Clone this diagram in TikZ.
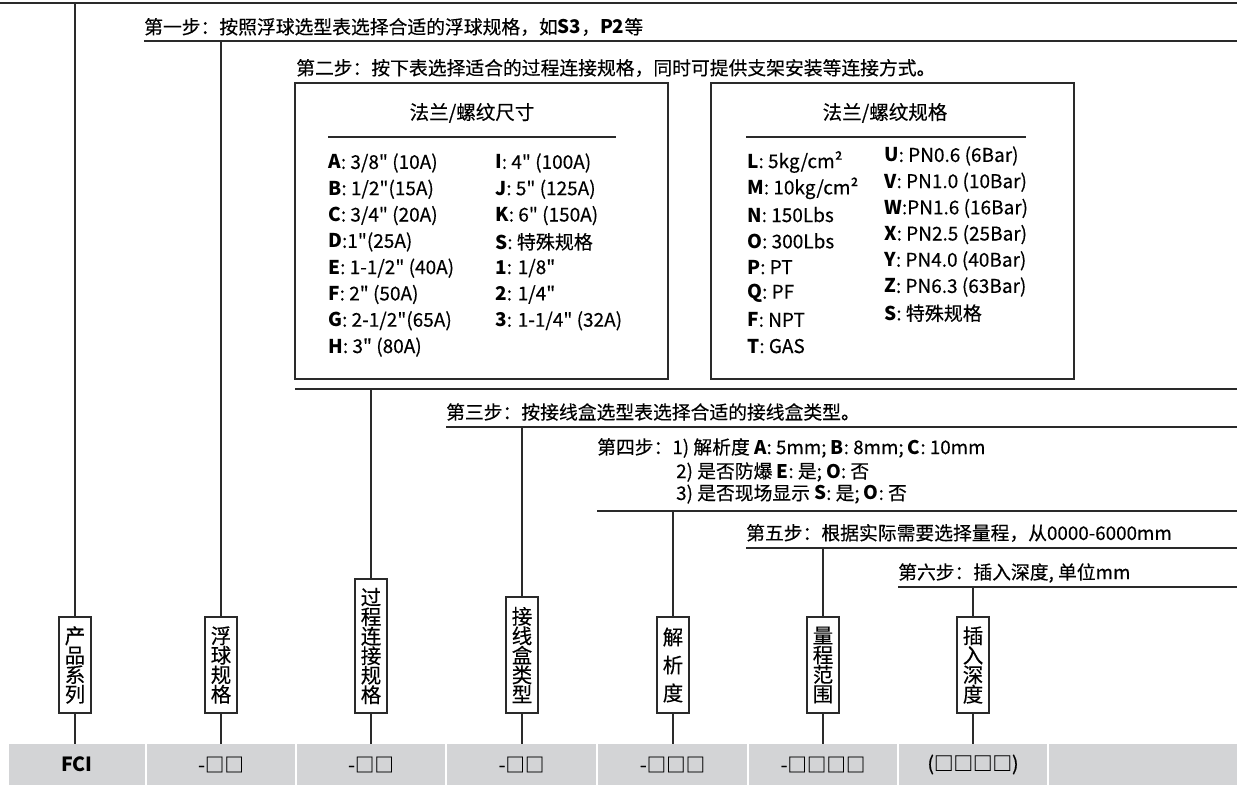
\documentclass[tikz,border=0pt]{standalone}
\usepackage{fontspec}
\newfontfamily\mainf{Noto Sans CJK SC}[UprightFeatures={FakeBold=0.3}]
\definecolor{cellgray}{HTML}{D3D4D6}
\definecolor{lncol}{HTML}{2A2A2A}
\begin{document}
\mainf
\begin{tikzpicture}[x=1pt,y=-1pt,
  ln/.style={line width=1.2pt, draw=lncol},
  steptxt/.style={anchor=west, inner sep=0pt, font=\mainf\fontsize{18.8}{22}\selectfont},
  rowtxt/.style={anchor=west, inner sep=0pt, font=\mainf\fontsize{19}{22}\selectfont},
  ttl/.style={inner sep=0pt, font=\mainf\fontsize{19.5}{22}\selectfont},
  lbl/.style={draw=lncol, line width=1.2pt, fill=white, minimum width=32pt, inner sep=0pt, align=center, font=\mainf\fontsize{20.5}{19.5}\selectfont},
  cellbox/.style={fill=cellgray, inner sep=0pt, minimum height=41pt, font=\mainf\fontsize{19.5}{22}\selectfont},
  tbl/.style={draw=lncol, line width=1.5pt, inner sep=0pt}
]
\useasboundingbox (0,0) rectangle (1237,785);

% bottom cells
\node[cellbox, minimum width=136pt] (c1) at (77,764.5) {\textbf{FCI}};
\node[cellbox, minimum width=148pt] (c2) at (221,764.5) {-□□};
\node[cellbox, minimum width=148pt] (c3) at (371,764.5) {-□□};
\node[cellbox, minimum width=149pt] (c4) at (521.5,764.5) {-□□};
\node[cellbox, minimum width=149pt] (c5) at (672.5,764.5) {-□□□};
\node[cellbox, minimum width=148pt] (c6) at (823,764.5) {-□□□□};
\node[cellbox, minimum width=148pt] (c7) at (973,764.5) {(□□□□)};
\node[cellbox, minimum width=188pt] (c8) at (1143,764.5) {};

% label boxes
\node[lbl, minimum height=96pt] (l1) at (75,665) {产\\品\\系\\列};
\node[lbl, minimum height=96pt] (l2) at (221,665) {浮\\球\\规\\格};
\node[lbl, minimum height=134pt] (l3) at (371,646) {过\\程\\连\\接\\规\\格};
\node[lbl, minimum height=116pt] (l4) at (522,655) {接\\线\\盒\\类\\型};
\node[lbl, minimum height=96pt, font=\mainf\fontsize{20.5}{28}\selectfont] (l5) at (673,665) {解\\析\\度};
\node[lbl, minimum height=96pt] (l6) at (823,665) {量\\程\\范\\围};
\node[lbl, minimum height=96pt] (l7) at (973,665) {插\\入\\深\\度};

% lower connectors
\foreach \i in {1,...,7}{
  \draw[ln] (l\i.south) -- (l\i.south |- c\i.north);
}

% step lines and connectors
\draw[ln] (0,3) -- (1237,3);
\coordinate (s0) at (75,3);
\draw[ln] (s0) -- (l1.north);

\node[steptxt] (t1) at (144,27) {第一步：按照浮球选型表选择合适的浮球规格，如\textbf{S3}，\textbf{P2}等};
\draw[ln] (144,41) -- (1237,41);
\coordinate (s1) at (221,41);
\draw[ln] (s1) -- (l2.north);

\node[steptxt] (t2) at (296,68) {第二步：按下表选择适合的过程连接规格，同时可提供支架安装等连接方式。};
\draw[ln] (295,389) -- (1237,389);
\coordinate (s2) at (371,389);
\draw[ln] (s2) -- (l3.north);

\node[steptxt] (t3) at (446,412) {第三步：按接线盒选型表选择合适的接线盒类型。};
\draw[ln] (446,427) -- (1237,427);
\coordinate (s3) at (522,427);
\draw[ln] (s3) -- (l4.north);

\node[steptxt] (t4a) at (597,448) {第四步：1) 解析度 \textbf{A}: 5mm; \textbf{B}: 8mm; \textbf{C}: 10mm};
\node[steptxt] (t4b) at (676,472) {2) 是否防爆 \textbf{E}: 是; \textbf{O}: 否};
\node[steptxt] (t4c) at (676,494) {3) 是否现场显示 \textbf{S}: 是; \textbf{O}: 否};
\draw[ln] (597,511) -- (1237,511);
\coordinate (s4) at (673,511);
\draw[ln] (s4) -- (l5.north);

\node[steptxt] (t5) at (746,533) {第五步：根据实际需要选择量程，从0000-6000mm};
\draw[ln] (746,548) -- (1237,548);
\coordinate (s5) at (823,548);
\draw[ln] (s5) -- (l6.north);

\node[steptxt] (t6) at (898,573) {第六步：插入深度, 单位mm};
\draw[ln] (898,587) -- (1237,587);
\coordinate (s6) at (973,587);
\draw[ln] (s6) -- (l7.north);

% tables
\node[tbl, minimum width=373pt, minimum height=296pt] (bx1) at (481.5,231) {};
\node[ttl] (h1) at (472,113) {法兰/螺纹尺寸};
\draw[ln] (328,137) -- (616,137);
\foreach \t [count=\i from 0] in {\textbf{A}: 3/8" (10A), \textbf{B}: 1/2"(15A), \textbf{C}: 3/4" (20A), \textbf{D}:1"(25A), \textbf{E}: 1-1/2" (40A), \textbf{F}: 2" (50A), \textbf{G}: 2-1/2"(65A), \textbf{H}: 3" (80A)}{
  \node[rowtxt] (a\i) at (328,{163+26.3*\i}) {\t};
}
\foreach \t [count=\i from 0] in {\textbf{I}: 4" (100A), \textbf{J}: 5" (125A), \textbf{K}: 6" (150A), \textbf{S}: 特殊规格, \textbf{1}: 1/8", \textbf{2}: 1/4", \textbf{3}: 1-1/4" (32A)}{
  \node[rowtxt] (b\i) at (495,{163+26.3*\i}) {\t};
}

\node[tbl, minimum width=363pt, minimum height=296pt] (bx2) at (892.5,231) {};
\node[ttl] (h2) at (885,113) {法兰/螺纹规格};
\draw[ln] (746,137) -- (1026,137);
\foreach \t [count=\i from 0] in {\textbf{L}: 5kg/cm², \textbf{M}: 10kg/cm², \textbf{N}: 150Lbs, \textbf{O}: 300Lbs, \textbf{P}: PT, \textbf{Q}: PF, \textbf{F}: NPT, \textbf{T}: GAS}{
  \node[rowtxt] (d\i) at (747,{162+26.3*\i}) {\t};
}
\foreach \t [count=\i from 0] in {\textbf{U}: PN0.6 (6Bar), \textbf{V}: PN1.0 (10Bar), \textbf{W}:PN1.6 (16Bar), \textbf{X}: PN2.5 (25Bar), \textbf{Y}: PN4.0 (40Bar), \textbf{Z}: PN6.3 (63Bar), \textbf{S}: 特殊规格}{
  \node[rowtxt] (e\i) at (884,{156+26.2*\i}) {\t};
}
\end{tikzpicture}
\end{document}
